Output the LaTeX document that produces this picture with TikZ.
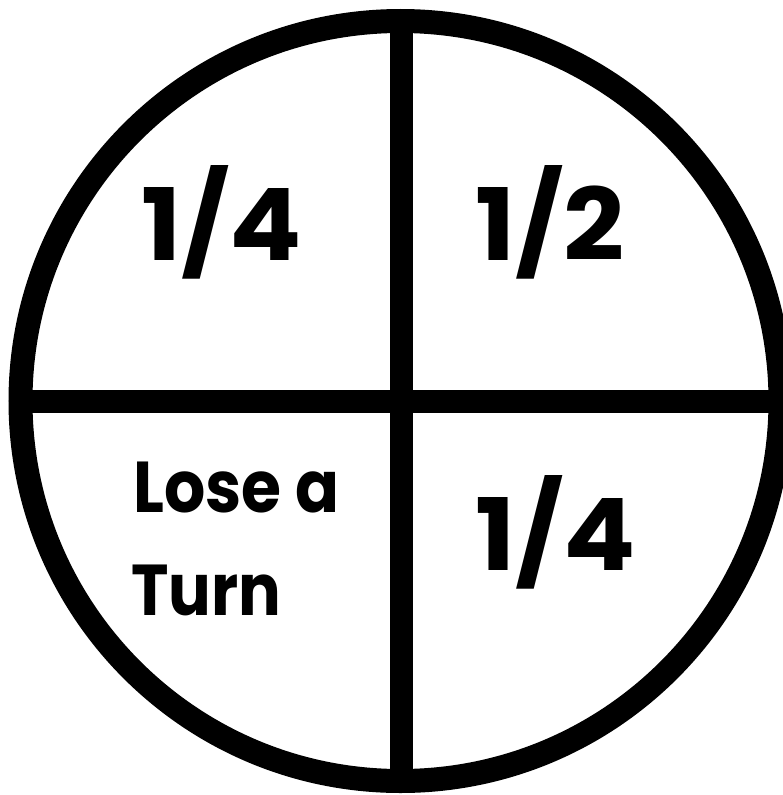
\documentclass[tikz,border=0pt]{standalone}
\usepackage{fontspec}
\setmainfont{Poppins}
\begin{document}
\begin{tikzpicture}[x=1pt,y=-1pt,
  bigtxt/.style={inner sep=0pt,anchor=base west,font=\fontsize{100}{100}\selectfont\bfseries},
  smalltxt/.style={inner sep=0pt,anchor=base west,font=\fontsize{72}{72}\selectfont\bfseries},
  rim/.style={line width=24pt,draw=black},
  divider/.style={line width=23pt,draw=black}]
\useasboundingbox (0,0) rectangle (783,795);
\coordinate (c) at (400.5,401);
\coordinate (top) at (401.5,21);
\coordinate (bot) at (401.5,781);
\coordinate (lft) at (20.5,401.5);
\coordinate (rgt) at (780.5,401.5);
\draw[divider] (top) -- (bot);
\draw[divider] (lft) -- (rgt);
\draw[rim] (c) circle (380pt);
\node[bigtxt] (tl) at (141,260) {\scalebox{1.07}[1]{1/4}};
\node[bigtxt] (tr) at (475,260) {\scalebox{1.07}[1]{1/2}};
\node[bigtxt] (br) at (475,570) {\scalebox{1.07}[1]{1/4}};
\node[smalltxt] (lose) at (133,512) {\scalebox{0.9}[1]{Lose a}};
\node[smalltxt] (turn) at (131,615) {\scalebox{0.88}[1]{Turn}};
\end{tikzpicture}
\end{document}
